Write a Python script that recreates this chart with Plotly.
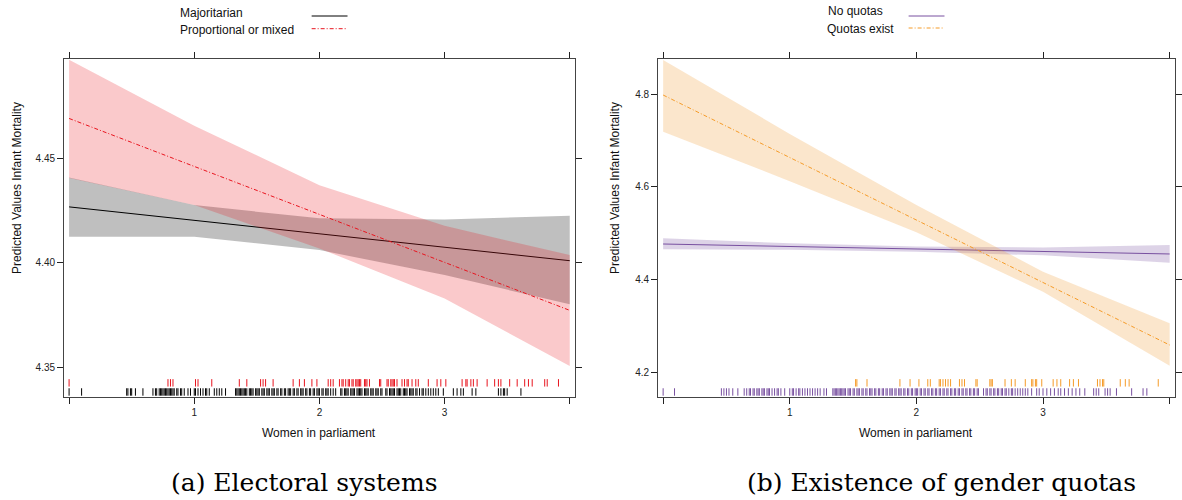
import plotly.graph_objects as go

W, H = 1182, 500

# ---------------- data ----------------
x_levels = [0, 1, 2, 3, 4]

# Panel (a): electoral systems
maj_fit = [4.4268, 4.4204, 4.4139, 4.4074, 4.4010]
maj_lo = [4.4125, 4.4125, 4.4061, 4.3941, 4.3801]
maj_hi = [4.4409, 4.4277, 4.4213, 4.4208, 4.4225]

pro_fit = [4.4692, 4.4462, 4.4232, 4.4002, 4.3772]
pro_lo = [4.4407, 4.4277, 4.4069, 4.3829, 4.3505]
pro_hi = [4.4973, 4.4657, 4.4372, 4.4177, 4.4037]

# Panel (b): gender quotas
noq_fit = [4.4765, 4.4711, 4.4657, 4.4604, 4.4550]
noq_lo = [4.4650, 4.4640, 4.4600, 4.4520, 4.4362]
noq_hi = [4.4888, 4.4780, 4.4710, 4.4690, 4.4744]

quo_fit = [4.7978, 4.6630, 4.5280, 4.3935, 4.2587]
quo_lo = [4.7187, 4.6120, 4.5017, 4.3737, 4.2140]
quo_hi = [4.8733, 4.7140, 4.5606, 4.4168, 4.3054]

# Rug values (women in parliament)
rug_pro = [0.00, 0.79, 0.81, 0.83, 1.01, 1.03, 1.14, 1.36, 1.42, 1.53, 1.55, 1.57, 1.63,
           1.79, 1.84, 1.88, 1.94, 1.98, 2.07, 2.09, 2.11, 2.16, 2.18, 2.19, 2.21, 2.23,
           2.24, 2.26, 2.27, 2.29, 2.30, 2.31, 2.32, 2.33, 2.36, 2.37, 2.38, 2.40, 2.48,
           2.49, 2.54, 2.55, 2.57, 2.58, 2.59, 2.60, 2.62, 2.66, 2.68, 2.70, 2.71, 2.74,
           2.77, 2.79, 2.87, 2.94, 2.97, 3.01, 3.14, 3.17, 3.18, 3.21, 3.23, 3.26, 3.34,
           3.40, 3.43, 3.45, 3.52, 3.58, 3.64, 3.67, 3.70, 3.80, 3.82, 3.91]
rug_maj = [0.00, 0.10, 0.46, 0.47, 0.49, 0.50, 0.53, 0.59, 0.67, 0.69, 0.70, 0.72, 0.73,
           0.74, 0.75, 0.76, 0.77, 0.78, 0.79, 0.80, 0.81, 0.82, 0.83, 0.84, 0.86, 0.87,
           0.89, 0.90, 0.92, 0.95, 0.97, 1.00, 1.01, 1.03, 1.05, 1.07, 1.09, 1.10, 1.12,
           1.16, 1.18, 1.20, 1.22, 1.25, 1.33, 1.34, 1.35, 1.36, 1.37, 1.38, 1.39, 1.40,
           1.41, 1.42, 1.44, 1.45, 1.46, 1.47, 1.49, 1.50, 1.51, 1.52, 1.54, 1.55, 1.56,
           1.58, 1.59, 1.60, 1.62, 1.63, 1.64, 1.66, 1.67, 1.69, 1.70, 1.72, 1.73, 1.75,
           1.76, 1.77, 1.79, 1.80, 1.82, 1.83, 1.85, 1.86, 1.87, 1.89, 1.90, 1.92, 1.93,
           1.95, 1.96, 1.98, 1.99, 2.00, 2.02, 2.03, 2.05, 2.06, 2.07, 2.09, 2.11, 2.13,
           2.17, 2.18, 2.20, 2.21, 2.22, 2.23, 2.25, 2.26, 2.27, 2.28, 2.30, 2.31, 2.32,
           2.33, 2.34, 2.36, 2.37, 2.38, 2.39, 2.41, 2.42, 2.43, 2.45, 2.46, 2.47, 2.49,
           2.50, 2.53, 2.54, 2.56, 2.57, 2.58, 2.59, 2.60, 2.62, 2.63, 2.64, 2.65, 2.67,
           2.68, 2.69, 2.70, 2.72, 2.73, 2.74, 2.75, 2.77, 2.78, 2.80, 2.82, 2.83, 2.85,
           2.87, 2.89, 2.91, 2.93, 2.95, 2.99, 3.07, 3.10, 3.13, 3.15, 3.22, 3.25, 3.43,
           3.45, 3.47, 3.48, 3.50, 3.61]
rug_quo = [1.52, 1.53, 1.61, 1.87, 1.95, 2.02, 2.09, 2.11, 2.18, 2.19, 2.21, 2.23, 2.25,
           2.27, 2.34, 2.36, 2.38, 2.47, 2.48, 2.58, 2.59, 2.60, 2.70, 2.75, 2.78, 2.86,
           2.91, 2.92, 2.94, 2.95, 2.99, 3.08, 3.11, 3.14, 3.21, 3.24, 3.28, 3.43, 3.45,
           3.47, 3.48, 3.61, 3.65, 3.68, 3.91]
rug_noq = [0.00, 0.09, 0.46, 0.48, 0.50, 0.52, 0.55, 0.59, 0.64, 0.66, 0.68, 0.69, 0.71,
           0.72, 0.74, 0.75, 0.76, 0.78, 0.79, 0.80, 0.82, 0.83, 0.84, 0.86, 0.88, 0.90,
           0.91, 0.93, 0.96, 1.00, 1.02, 1.03, 1.05, 1.07, 1.08, 1.10, 1.12, 1.14, 1.16,
           1.18, 1.20, 1.22, 1.24, 1.27, 1.29, 1.34, 1.35, 1.36, 1.37, 1.38, 1.39, 1.40,
           1.41, 1.42, 1.43, 1.44, 1.46, 1.47, 1.48, 1.50, 1.51, 1.53, 1.54, 1.55, 1.57,
           1.58, 1.60, 1.61, 1.63, 1.64, 1.65, 1.67, 1.68, 1.70, 1.71, 1.73, 1.74, 1.76,
           1.77, 1.79, 1.80, 1.81, 1.83, 1.84, 1.86, 1.87, 1.88, 1.90, 1.91, 1.93, 1.94,
           1.96, 1.97, 1.99, 2.00, 2.01, 2.03, 2.04, 2.06, 2.07, 2.09, 2.10, 2.12, 2.13,
           2.15, 2.16, 2.18, 2.19, 2.21, 2.22, 2.24, 2.25, 2.27, 2.28, 2.30, 2.31, 2.33,
           2.34, 2.36, 2.37, 2.39, 2.40, 2.42, 2.43, 2.45, 2.46, 2.48, 2.49, 2.53, 2.55,
           2.56, 2.58, 2.59, 2.61, 2.62, 2.64, 2.65, 2.67, 2.68, 2.70, 2.71, 2.73, 2.75,
           2.76, 2.78, 2.80, 2.82, 2.84, 2.86, 2.88, 2.91, 2.95, 2.97, 3.00, 3.03, 3.06,
           3.09, 3.12, 3.14, 3.17, 3.20, 3.23, 3.26, 3.29, 3.33, 3.40, 3.42, 3.44, 3.49,
           3.51, 3.53, 3.58, 3.70, 3.79, 3.82]

x_tickvals = [0, 1, 2, 3, 4]
x_ticktext = ["", "1", "2", "3", ""]
ya_tickvals = [4.35, 4.40, 4.45]
ya_ticktext = ["4.35", "4.40", "4.45"]
yb_tickvals = [4.2, 4.4, 4.6, 4.8]
yb_ticktext = ["4.2", "4.4", "4.6", "4.8"]

# ---------------- styles ----------------
SANS = "Liberation Sans, Arial, sans-serif"
SERIF = "DejaVu Serif, Liberation Serif, serif"
X_RANGE = [-0.04, 4.04]
YA_RANGE = [4.3358, 4.4977]
YB_RANGE = [4.1472, 4.8755]
DASHDOT = "4px,2px,1px,2px"

C_MAJ, F_MAJ = "#000000", "rgba(0,0,0,0.25)"
C_PRO, F_PRO = "rgb(232,20,30)", "rgba(232,20,30,0.23)"
C_NOQ, F_NOQ = "rgb(120,80,160)", "rgba(120,80,160,0.25)"
C_QUO, F_QUO = "rgb(245,155,40)", "rgba(240,150,40,0.24)"

fig = go.Figure()


def band(xa, ya, lo, hi, fill):
    fig.add_trace(go.Scatter(
        x=x_levels + x_levels[::-1], y=hi + lo[::-1], xaxis=xa, yaxis=ya,
        mode="lines", line=dict(width=0), fill="toself", fillcolor=fill,
        hoverinfo="skip", showlegend=False))


def fitline(xa, ya, fit, color, dash):
    fig.add_trace(go.Scatter(
        x=x_levels, y=fit, xaxis=xa, yaxis=ya, mode="lines",
        line=dict(color=color, width=1, dash=dash), showlegend=False))


def rug(xa, ya, vals, yr, f0, f1, color):
    y0 = yr[0] + f0 * (yr[1] - yr[0])
    y1 = yr[0] + f1 * (yr[1] - yr[0])
    xs, ys = [], []
    for v in vals:
        xs += [v, v, None]
        ys += [y0, y1, None]
    fig.add_trace(go.Scatter(x=xs, y=ys, xaxis=xa, yaxis=ya, mode="lines",
                             line=dict(color=color, width=1), hoverinfo="skip",
                             showlegend=False))


# panel a
band("x", "y", maj_lo, maj_hi, F_MAJ)
fitline("x", "y", maj_fit, C_MAJ, "solid")
band("x", "y", pro_lo, pro_hi, F_PRO)
fitline("x", "y", pro_fit, C_PRO, DASHDOT)
rug("x", "y", rug_pro, YA_RANGE, 0.030, 0.052, C_PRO)
rug("x", "y", rug_maj, YA_RANGE, 0.003, 0.025, C_MAJ)

# panel b
band("x2", "y2", noq_lo, noq_hi, F_NOQ)
fitline("x2", "y2", noq_fit, C_NOQ, "solid")
band("x2", "y2", quo_lo, quo_hi, F_QUO)
fitline("x2", "y2", quo_fit, C_QUO, DASHDOT)
rug("x2", "y2", rug_quo, YB_RANGE, 0.030, 0.052, C_QUO)
rug("x2", "y2", rug_noq, YB_RANGE, 0.003, 0.025, C_NOQ)

ydom = [1 - 396.7 / H, 1 - 59 / H]
common_ax = dict(showgrid=False, zeroline=False, showline=True, linecolor="#444",
                 linewidth=1, ticks="outside", ticklen=6, tickcolor="#222",
                 tickwidth=1, mirror="allticks",
                 tickfont=dict(family=SANS, size=10, color="#222"))

fig.update_layout(
    width=W, height=H, margin=dict(l=0, r=0, t=0, b=0),
    paper_bgcolor="white", plot_bgcolor="white", showlegend=False,
    xaxis=dict(domain=[64.3 / W, 576.7 / W], range=X_RANGE, tickmode="array",
               tickvals=x_tickvals, ticktext=x_ticktext, anchor="y", **common_ax),
    yaxis=dict(domain=ydom, range=YA_RANGE, tickmode="array",
               tickvals=ya_tickvals, ticktext=ya_ticktext, anchor="x", **common_ax),
    xaxis2=dict(domain=[660.3 / W, 1178.7 / W], range=X_RANGE, tickmode="array",
                tickvals=x_tickvals, ticktext=x_ticktext, anchor="y2", **common_ax),
    yaxis2=dict(domain=ydom, range=YB_RANGE, tickmode="array",
                tickvals=yb_tickvals, ticktext=yb_ticktext, anchor="x2", **common_ax),
)


def px(x, y):
    return x / W, 1 - y / H


annots = []


def text(x, y, s, size, family=SANS, xanchor="center", angle=0, color="#111"):
    ax, ay = px(x, y)
    annots.append(dict(x=ax, y=ay, xref="paper", yref="paper", text=s, showarrow=False,
                       xanchor=xanchor, yanchor="middle", textangle=angle,
                       font=dict(family=family, size=size, color=color)))


# axis titles
text(320.5, 433, "Women in parliament", 12)
text(919.5, 433, "Women in parliament", 12)
text(17, 188, "Predicted Values Infant Mortality", 12, angle=-90)
text(617, 188, "Predicted Values Infant Mortality", 12, angle=-90)

# legends
text(179, 13, "Majoritarian", 12, xanchor="left")
text(179, 30, "Proportional or mixed", 12, xanchor="left")
text(829, 11, "No quotas", 12, xanchor="left")
text(828, 29, "Quotas exist", 12, xanchor="left")

# captions
text(305, 482, "(a) Electoral systems", 25, family=SERIF, color="#000")
text(945, 482, "(b) Existence of gender quotas", 25, family=SERIF, color="#000")

shapes = []


def legline(x0, x1, y, color, dash):
    a0, b = px(x0, y)
    a1, _ = px(x1, y)
    shapes.append(dict(type="line", xref="paper", yref="paper", x0=a0, x1=a1, y0=b, y1=b,
                       line=dict(color=color, width=1, dash=dash)))


legline(312.7, 348.7, 16, C_MAJ, "solid")
legline(312.7, 348.7, 28.7, C_PRO, DASHDOT)
legline(911.7, 947.7, 16, C_NOQ, "solid")
legline(911.7, 947.7, 28, C_QUO, DASHDOT)

fig.update_layout(annotations=annots, shapes=shapes)
fig.write_html("out.html")
